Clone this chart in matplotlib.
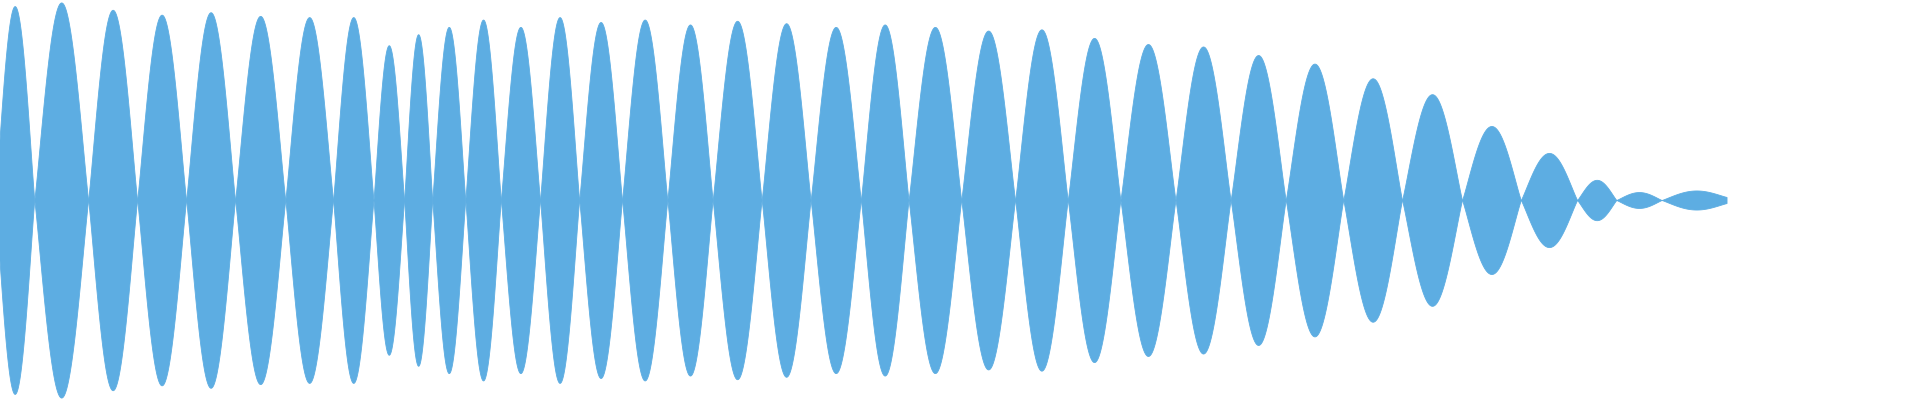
import numpy as np
import matplotlib
matplotlib.use("Agg")
import matplotlib.pyplot as plt

# lobe boundaries (x) and top edge (y) of each lobe, in a 1568 x 327 frame
nodes = [-4, 28, 72, 112, 152, 192, 233, 272, 305, 330, 353, 380, 409, 441, 473, 508,
         545, 582, 622, 662, 703, 742, 785, 829, 872, 915, 960, 1005, 1050, 1097,
         1145, 1194, 1242, 1288, 1320, 1357, 1410]
tops = [5, 2, 8, 12, 10, 13, 14, 14, 37, 28, 22, 16, 22, 14, 18, 16, 20, 17, 19, 22,
        20, 22, 25, 24, 31, 36, 38, 45, 52, 64, 77, 103, 125, 147, 157, 157]
center = 163.5
end_width = 2.5

fig = plt.figure(figsize=(19.2, 4.0), dpi=100)
ax = fig.add_axes([0, 0, 1, 1])
color = "#5dade2"
for i, tp in enumerate(tops):
    a = center - tp
    x0, x1 = nodes[i], nodes[i + 1]
    t = np.linspace(0, 1, 200)
    x = x0 + (x1 - x0) * t
    w = a * np.sin(np.pi * t) ** 1.1
    if i == len(tops) - 1:
        w = w + end_width * t
    ax.fill_between(x, center - w, center + w, color=color, linewidth=0.6, edgecolor=color)
ax.set_xlim(0, 1568)
ax.set_ylim(327, 0)
ax.axis("off")
fig.savefig("out.png", dpi=100)
